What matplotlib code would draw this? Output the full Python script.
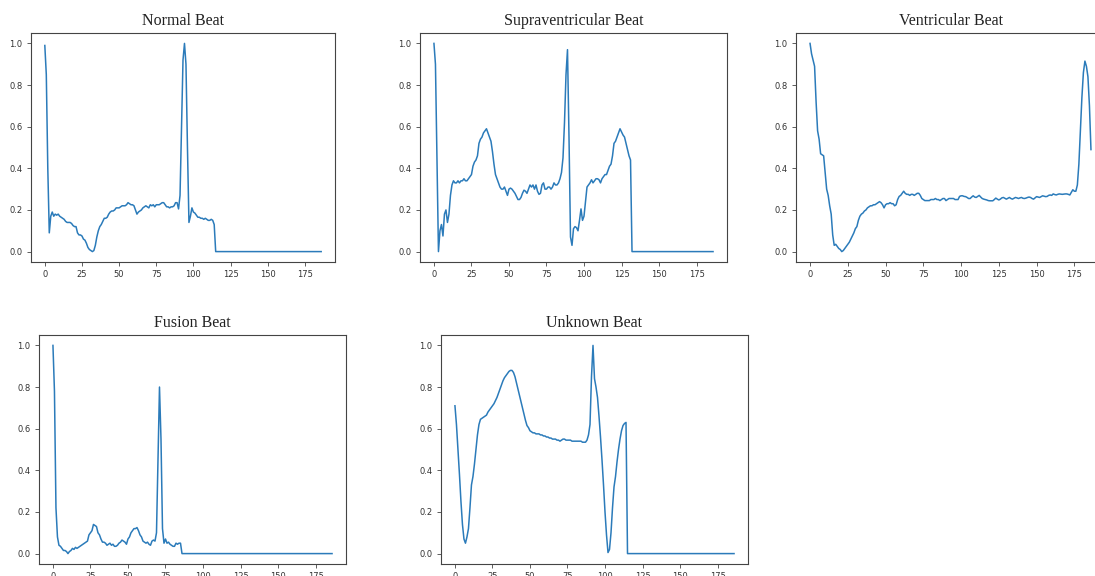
import numpy as np
import matplotlib.pyplot as plt

# Wartości (187 próbek na uderzenie)
normal_beat = [
    0.99, 0.85, 0.40, 0.09, 0.17, 0.19, 0.17, 0.18, 0.175, 0.18,
    0.17, 0.165, 0.16, 0.155, 0.145, 0.14, 0.14, 0.14, 0.135, 0.125,
    0.12, 0.12, 0.09, 0.08, 0.08, 0.075, 0.06, 0.055, 0.04, 0.02,
    0.01, 0.005, 0.0, 0.005, 0.03, 0.07, 0.10, 0.12, 0.13, 0.145,
    0.16, 0.16, 0.165, 0.18, 0.19, 0.195, 0.195, 0.20, 0.21, 0.21,
    0.21, 0.215, 0.22, 0.22, 0.22, 0.225, 0.235, 0.23, 0.225, 0.225,
    0.22, 0.20, 0.18, 0.19, 0.195, 0.20, 0.21, 0.215, 0.22, 0.215,
    0.21, 0.225, 0.22, 0.225, 0.215, 0.225, 0.225, 0.225, 0.23, 0.235,
    0.235, 0.225, 0.215, 0.215, 0.21, 0.215, 0.215, 0.22, 0.235, 0.235,
    0.205, 0.27, 0.60, 0.92, 1.0, 0.90, 0.50, 0.14, 0.17, 0.21,
    0.19, 0.185, 0.175, 0.165, 0.165, 0.16, 0.16, 0.155, 0.16, 0.155,
    0.15, 0.15, 0.155, 0.15, 0.13,
] + [0.0] * 72

supra_beat = [
    1.0, 0.90, 0.45, 0.0, 0.10, 0.13, 0.075, 0.18, 0.20, 0.14,
    0.18, 0.27, 0.32, 0.34, 0.33, 0.33, 0.34, 0.33, 0.34, 0.34,
    0.35, 0.34, 0.34, 0.35, 0.36, 0.37, 0.41, 0.43, 0.44, 0.46,
    0.52, 0.54, 0.55, 0.57, 0.58, 0.59, 0.57, 0.55, 0.53, 0.48,
    0.42, 0.37, 0.35, 0.33, 0.31, 0.30, 0.30, 0.31, 0.29, 0.27,
    0.30, 0.305, 0.30, 0.29, 0.28, 0.265, 0.25, 0.25, 0.26, 0.28,
    0.295, 0.29, 0.28, 0.30, 0.32, 0.31, 0.32, 0.30, 0.32, 0.29,
    0.275, 0.28, 0.32, 0.33, 0.30, 0.30, 0.31, 0.31, 0.30, 0.31,
    0.33, 0.32, 0.32, 0.33, 0.35, 0.38, 0.45, 0.62, 0.85, 0.97,
    0.55, 0.07, 0.03, 0.11, 0.12, 0.115, 0.10, 0.15, 0.205, 0.15,
    0.17, 0.24, 0.31, 0.32, 0.33, 0.345, 0.33, 0.34, 0.35, 0.35,
    0.345, 0.33, 0.35, 0.36, 0.37, 0.37, 0.39, 0.41, 0.42, 0.46,
    0.52, 0.53, 0.55, 0.57, 0.59, 0.575, 0.56, 0.55, 0.52, 0.49,
    0.46, 0.44,
] + [0.0] * 55

ventricular_beat = [
    1.0, 0.95, 0.92, 0.89, 0.72, 0.58, 0.54, 0.47, 0.465, 0.46,
    0.38, 0.30, 0.27, 0.22, 0.18, 0.08, 0.03, 0.035, 0.025, 0.015,
    0.01, 0.0, 0.005, 0.015, 0.025, 0.035, 0.045, 0.06, 0.075, 0.09,
    0.11, 0.12, 0.15, 0.17, 0.18, 0.185, 0.195, 0.20, 0.21, 0.215,
    0.22, 0.22, 0.225, 0.225, 0.23, 0.235, 0.24, 0.235, 0.225, 0.21,
    0.225, 0.23, 0.23, 0.235, 0.23, 0.23, 0.22, 0.225, 0.25, 0.265,
    0.27, 0.28, 0.29, 0.28, 0.275, 0.275, 0.27, 0.275, 0.275, 0.27,
    0.275, 0.28, 0.28, 0.27, 0.255, 0.25, 0.245, 0.245, 0.245, 0.245,
    0.25, 0.25, 0.25, 0.255, 0.25, 0.25, 0.245, 0.25, 0.255, 0.255,
    0.245, 0.25, 0.255, 0.255, 0.255, 0.255, 0.25, 0.25, 0.25, 0.265,
    0.268, 0.268, 0.265, 0.264, 0.26, 0.255, 0.255, 0.262, 0.268, 0.262,
    0.26, 0.265, 0.27, 0.262, 0.255, 0.252, 0.25, 0.248, 0.245, 0.244,
    0.244, 0.244, 0.25, 0.257, 0.252, 0.248, 0.252, 0.258, 0.26, 0.256,
    0.252, 0.256, 0.26, 0.255, 0.252, 0.256, 0.26, 0.258, 0.255, 0.258,
    0.26, 0.256, 0.255, 0.257, 0.26, 0.262, 0.26, 0.255, 0.252, 0.258,
    0.264, 0.262, 0.26, 0.264, 0.268, 0.266, 0.264, 0.265, 0.27, 0.272,
    0.27, 0.277, 0.274, 0.272, 0.275, 0.277, 0.276, 0.275, 0.276, 0.277,
    0.277, 0.275, 0.272, 0.285, 0.297, 0.29, 0.29, 0.32, 0.42, 0.58,
    0.74, 0.86, 0.915, 0.89, 0.84, 0.70, 0.49,
]

fusion_beat = [
    1.0, 0.78, 0.22, 0.08, 0.04, 0.035, 0.025, 0.015, 0.015, 0.01,
    0.0, 0.01, 0.015, 0.025, 0.02, 0.03, 0.025, 0.03, 0.035, 0.04,
    0.045, 0.05, 0.055, 0.06, 0.09, 0.10, 0.11, 0.14, 0.135, 0.13,
    0.10, 0.09, 0.07, 0.055, 0.055, 0.05, 0.04, 0.045, 0.05, 0.04,
    0.045, 0.035, 0.035, 0.04, 0.05, 0.055, 0.065, 0.06, 0.055, 0.045,
    0.07, 0.08, 0.10, 0.11, 0.12, 0.12, 0.125, 0.11, 0.09, 0.08,
    0.06, 0.055, 0.05, 0.055, 0.045, 0.04, 0.06, 0.065, 0.06, 0.10,
    0.45, 0.80, 0.55, 0.12, 0.05, 0.07, 0.05, 0.055, 0.045, 0.04,
    0.035, 0.035, 0.05, 0.045, 0.05, 0.05,
] + [0.0] * 101

unknown_beat = [
    0.71, 0.62, 0.50, 0.38, 0.25, 0.14, 0.07, 0.05, 0.08, 0.12,
    0.22, 0.33, 0.37, 0.43, 0.50, 0.57, 0.62, 0.645, 0.65, 0.655,
    0.66, 0.665, 0.68, 0.69, 0.70, 0.71, 0.72, 0.735, 0.75, 0.77,
    0.79, 0.81, 0.83, 0.845, 0.855, 0.865, 0.875, 0.88, 0.88, 0.87,
    0.85, 0.82, 0.79, 0.76, 0.73, 0.70, 0.67, 0.64, 0.615, 0.605,
    0.59, 0.585, 0.58, 0.58, 0.575, 0.575, 0.575, 0.57, 0.57, 0.565,
    0.565, 0.56, 0.56, 0.555, 0.555, 0.55, 0.55, 0.55, 0.545, 0.545,
    0.54, 0.545, 0.55, 0.55, 0.545, 0.545, 0.545, 0.545, 0.54, 0.54,
    0.54, 0.54, 0.54, 0.54, 0.54, 0.535, 0.535, 0.535, 0.545, 0.57,
    0.62, 0.85, 1.0, 0.84, 0.80, 0.75, 0.66, 0.56, 0.45, 0.33,
    0.20, 0.09, 0.005, 0.02, 0.10, 0.22, 0.32, 0.37, 0.44, 0.50,
    0.55, 0.59, 0.615, 0.625, 0.63,
] + [0.0] * 72

titles = ['Normal Beat', 'Supraventricular Beat', 'Ventricular Beat',
          'Fusion Beat', 'Unknown Beat']
beats = [normal_beat, supra_beat, ventricular_beat, fusion_beat, unknown_beat]

# pozycje osi w pikselach: lewa, góra, szerokość, wysokość
W, H = 1095, 576
boxes = [(31, 33, 304, 229), (420, 33, 307, 229), (796, 33, 309, 229),
         (39, 335, 307, 229), (441, 335, 307, 229)]

fig = plt.figure(figsize=(W / 100, H / 100), dpi=100)

for title, beat, (l, t, w, h) in zip(titles, beats, boxes):
    ax = fig.add_axes([l / W, 1 - (t + h) / H, w / W, h / H])
    ax.plot(np.arange(len(beat)), beat, color='#2b7bba', lw=1.1)
    ax.set_title(title, fontsize=11.5, family='Liberation Serif', color='#222222')
    ax.set_xticks([0, 25, 50, 75, 100, 125, 150, 175])
    ax.set_yticks([0.0, 0.2, 0.4, 0.6, 0.8, 1.0])
    ax.tick_params(labelsize=6, length=3, width=0.6, pad=3,
                   colors='#444444', labelcolor='#333333')
    for s in ax.spines.values():
        s.set_color('#444444')
        s.set_linewidth(0.8)

fig.savefig('out.png', dpi=100)
